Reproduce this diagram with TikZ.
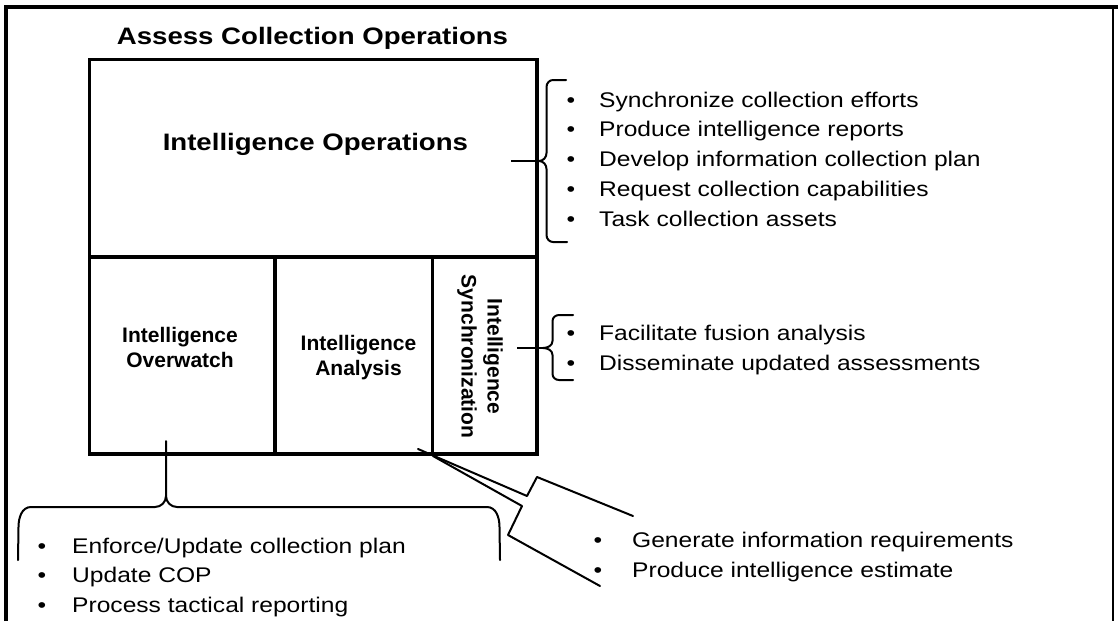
\documentclass[tikz,border=0pt]{standalone}
\usepackage{fontspec}
\setmainfont{Liberation Sans}[FakeStretch=1.16]
\newfontfamily\plainsans{Liberation Sans}
% bullet hung to the left of an item, #1 = gap in pt
\newcommand\bul[1]{\llap{•\hspace{#1pt}}}
\begin{document}
\begin{tikzpicture}[x=1pt,y=-1pt,
  frame/.style={line width=4pt, line join=miter},
  boxline/.style={line width=3.5pt},
  brace/.style={line width=2pt, line join=round, line cap=round},
  stub/.style={line width=2.5pt},
  heading/.style={font=\fontsize{23.8}{28}\selectfont\bfseries, inner sep=0pt, anchor=base},
  lbl/.style={font=\plainsans\fontsize{21}{25}\selectfont\bfseries, inner sep=0pt, anchor=base},
  item/.style={font=\fontsize{21.2}{25}\selectfont, inner sep=0pt, anchor=base west}]
\useasboundingbox (0,0) rectangle (1118,621);
\fill[white] (0,0) rectangle (1118,621);

% outer frame
\draw[frame] (5.5,621) -- (5.5,7) -- (1118,7);
\draw[line width=1.3pt] (1113,7) -- (1113,621);

% title
\node[heading] (title) at (312.5,44) {Assess Collection Operations};

% main block and its subdivisions
\coordinate (boxNW) at (89.5,59.5);
\coordinate (boxSE) at (537,454);
\draw[boxline] (boxNW) rectangle (boxSE);
\draw[boxline] (89.5,257) -- (537,257);
\draw[boxline] (275,257) -- (275,454);
\draw[boxline] (432.5,257) -- (432.5,454);

% labels inside the block
\node[heading] (ops) at (315.4,150) {Intelligence Operations};
\node[lbl] (ow1) at (180,342) {Intelligence};
\node[lbl] (ow2) at (180,367) {Overwatch};
\node[lbl] (an1) at (358.5,350) {Intelligence};
\node[lbl] (an2) at (358.5,375.5) {Analysis};
\node[lbl, rotate=-90] (syn1) at (487.5,356.5) {Intelligence};
\node[lbl, rotate=-90] (syn2) at (461.5,356.5) {Synchronization};

% brace for Intelligence Operations
\coordinate (opsStub) at (511,161);
\coordinate (opsTip) at (539,161);
\draw[stub] (opsStub) -- (opsTip);
\draw[brace] (566,80) -- (553,80) to[out=180,in=90] (546.5,87) -- (546.5,153)
  to[out=-90,in=0] (opsTip) to[out=0,in=90] (546.5,169) -- (546.5,235)
  to[out=-90,in=180] (553,242) -- (567,242);
\foreach \t [count=\i] in {Synchronize collection efforts, Produce intelligence reports,
  Develop information collection plan, Request collection capabilities, Task collection assets}
  \node[item] (opsItem\i) at (599,{107+(\i-1)*29.9}) {\bul{24}\t};

% brace for Intelligence Synchronization
\coordinate (synStub) at (517,348);
\coordinate (synTip) at (543,348);
\draw[stub] (synStub) -- (synTip);
\draw[brace] (573,315) -- (559,315) to[out=180,in=90] (552.5,321) -- (552.5,341)
  to[out=-90,in=0] (synTip) to[out=0,in=90] (552.5,355) -- (552.5,374)
  to[out=-90,in=180] (559,380) -- (573,380);
\foreach \t [count=\i] in {Facilitate fusion analysis, Disseminate updated assessments}
  \node[item] (synItem\i) at (599,{340.5+(\i-1)*29.5}) {\bul{24}\t};

% brace for Intelligence Overwatch
\coordinate (owTip) at (166,441);
\coordinate (owCusp) at (166,496);
\draw[brace] (18,560) -- (18.5,527) to[out=90,in=180] (31,507) -- (155,507)
  to[out=0,in=-90] (owCusp) -- (owTip);
\draw[brace] (owCusp) to[out=-90,in=180] (177,507) -- (487,507)
  to[out=0,in=90] (499.5,527) -- (500,560);
\foreach \t [count=\i] in {Enforce/Update collection plan, Update COP, Process tactical reporting}
  \node[item] (owItem\i) at (72,{553+(\i-1)*29.5}) {\bul{26}\t};

% angled brace for Intelligence Analysis
\coordinate (anTip) at (418,449);
\coordinate (anCorner) at (433,456);
\draw[brace] (anTip) -- (527,496) -- (537,477) -- (633,516);
\draw[brace] (anCorner) -- (522,506) -- (508,535) -- (600,586);
\foreach \t [count=\i] in {Generate information requirements, Produce intelligence estimate}
  \node[item] (anItem\i) at (632,{547.5+(\i-1)*30}) {\bul{30}\t};
\end{tikzpicture}
\end{document}
